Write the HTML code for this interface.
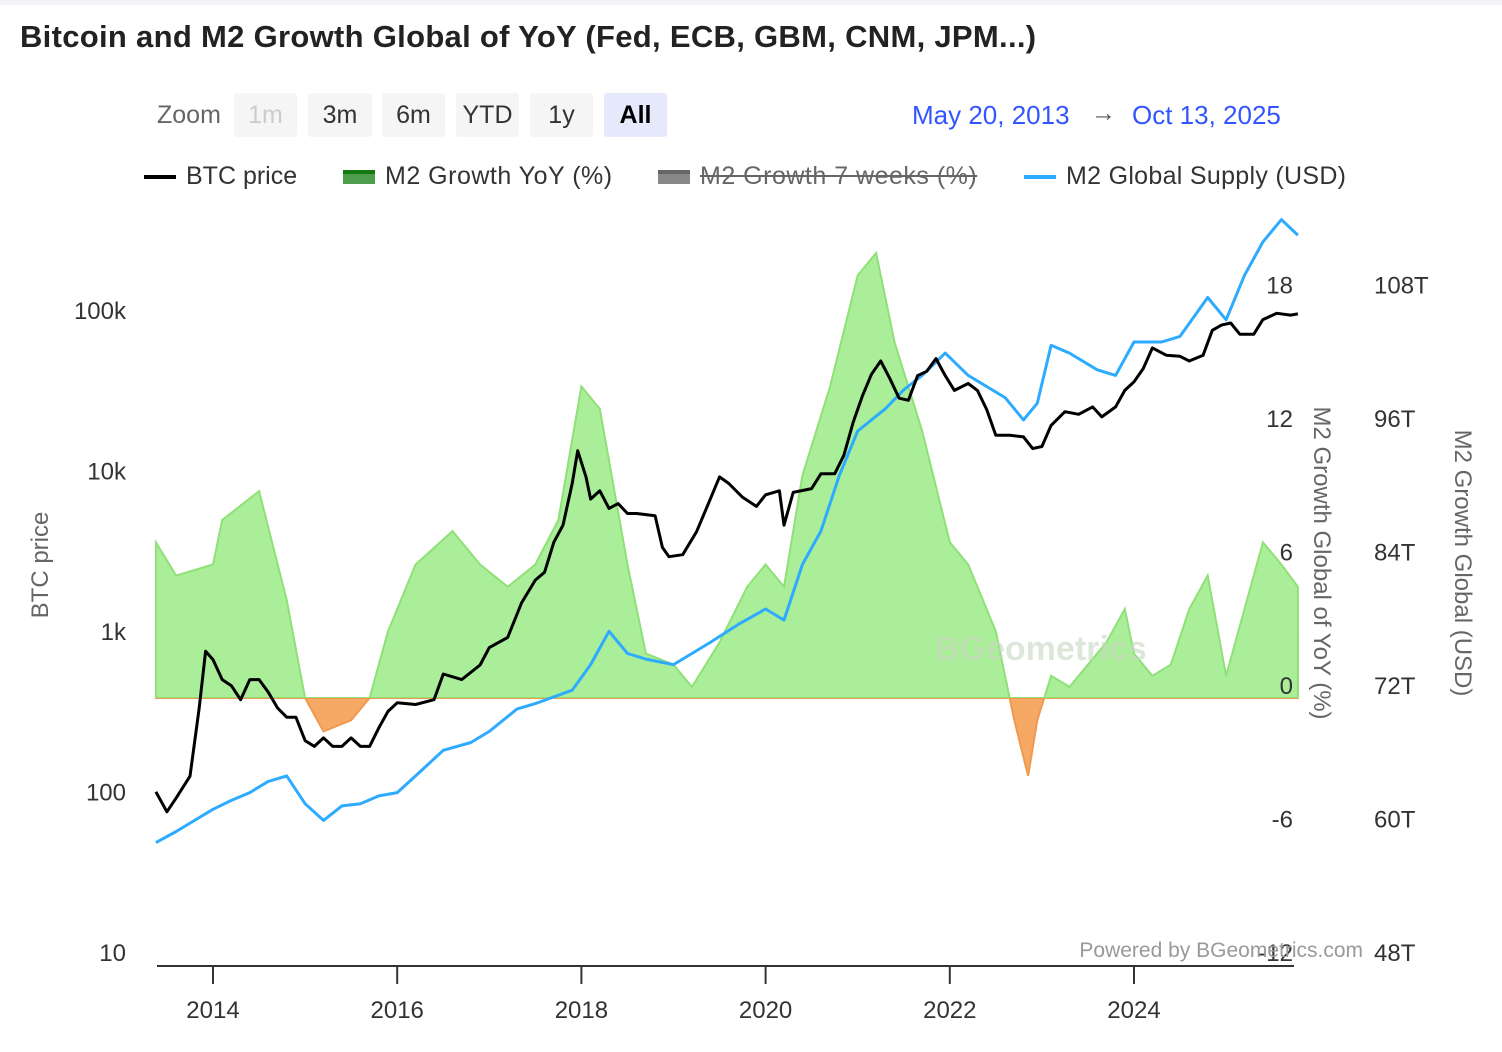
<!DOCTYPE html>
<html><head><meta charset="utf-8">
<style>
body{margin:0;background:#fff;font-family:"Liberation Sans",sans-serif;}
#wrap{position:relative;width:1502px;height:1052px;overflow:hidden;}
.t{position:absolute;white-space:nowrap;}
.btn{position:absolute;top:93px;height:44px;line-height:44px;background:#f5f5f5;border-radius:3px;font-size:25px;color:#333;text-align:center;}
</style></head><body>
<div id="wrap">
<div style="position:absolute;left:0;top:0;width:1502px;height:5px;background:#f3f4f7"></div>
<div class="t" style="left:20px;top:19px;font-size:31px;font-weight:bold;color:#222;letter-spacing:0.3px">Bitcoin and M2 Growth Global of YoY (Fed, ECB, GBM, CNM, JPM...)</div>
<div class="t" style="left:157px;top:101px;font-size:25px;color:#666">Zoom</div>
<div class="btn" style="left:234px;width:63px;color:#ccc">1m</div>
<div class="btn" style="left:308px;width:64px">3m</div>
<div class="btn" style="left:382px;width:63px">6m</div>
<div class="btn" style="left:456px;width:63px">YTD</div>
<div class="btn" style="left:530px;width:63px">1y</div>
<div class="btn" style="left:604px;width:63px;background:#e6e9fb;font-weight:bold;color:#000">All</div>
<div class="t" style="left:912px;top:100px;font-size:26px;color:#3355ff">May 20, 2013</div>
<div class="t" style="left:1091px;top:99px;font-size:25px;color:#555">→</div>
<div class="t" style="left:1132px;top:100px;font-size:26px;color:#3355ff">Oct 13, 2025</div>
<div class="t" style="left:144px;top:162px;font-size:25px;color:#333"><span style="display:inline-block;width:32px;height:4px;background:#000;vertical-align:middle;margin-right:10px"></span>BTC price</div>
<div class="t" style="left:343px;top:162px;font-size:25px;color:#333;letter-spacing:0.5px"><span style="display:inline-block;width:32px;height:10px;background:#4c9e4c;border-top:4px solid #137a13;vertical-align:middle;margin-right:10px"></span>M2 Growth YoY (%)</div>
<div class="t" style="left:658px;top:162px;font-size:25px;color:#666;text-decoration:line-through;letter-spacing:0.5px"><span style="display:inline-block;width:32px;height:10px;background:#888;border-top:4px solid #666;vertical-align:middle;margin-right:10px"></span>M2 Growth 7 weeks (%)</div>
<div class="t" style="left:1024px;top:162px;font-size:25px;color:#333;letter-spacing:0.3px"><span style="display:inline-block;width:32px;height:4px;background:#2eaaff;vertical-align:middle;margin-right:10px"></span>M2 Global Supply (USD)</div>
<svg id="plot" width="1502" height="1052" style="position:absolute;left:0;top:0"></svg>
</div>
<script>
const btcDates=[2013.38,2013.5,2013.6,2013.75,2013.85,2013.92,2014.0,2014.1,2014.2,2014.3,2014.4,2014.5,2014.6,2014.7,2014.8,2014.9,2015.0,2015.1,2015.2,2015.3,2015.4,2015.5,2015.6,2015.7,2015.8,2015.9,2016.0,2016.2,2016.4,2016.5,2016.7,2016.9,2017.0,2017.2,2017.35,2017.5,2017.6,2017.7,2017.8,2017.9,2017.96,2018.05,2018.1,2018.2,2018.3,2018.4,2018.5,2018.6,2018.8,2018.88,2018.95,2019.1,2019.25,2019.4,2019.5,2019.6,2019.75,2019.9,2020.0,2020.15,2020.2,2020.3,2020.5,2020.6,2020.75,2020.85,2020.95,2021.05,2021.15,2021.25,2021.35,2021.45,2021.55,2021.65,2021.75,2021.85,2021.95,2022.05,2022.2,2022.3,2022.4,2022.5,2022.65,2022.8,2022.9,2023.0,2023.1,2023.25,2023.4,2023.55,2023.65,2023.8,2023.9,2024.0,2024.1,2024.2,2024.35,2024.5,2024.6,2024.75,2024.85,2024.95,2025.05,2025.15,2025.3,2025.4,2025.55,2025.7,2025.78];
const btcValues=[120,90,110,150,400,900,800,600,550,450,600,600,500,400,350,350,250,230,260,230,230,260,230,230,300,380,430,420,450,650,600,740,950,1100,1800,2500,2800,4300,5500,10000,16000,11000,8000,9000,7000,7500,6500,6500,6300,4000,3500,3600,5000,8000,11000,10000,8200,7200,8500,9000,5500,8800,9300,11500,11500,15000,24000,35000,48000,58000,45000,34000,33000,47000,50000,60000,47000,38000,42000,38000,29000,20000,20000,19500,16500,17000,23000,28000,27000,30000,26000,30000,38000,43000,52000,70000,63000,62000,58000,63000,90000,97000,100000,85000,85000,105000,115000,112000,114000];
const m2Dates=[2013.38,2013.6,2013.8,2014.0,2014.2,2014.4,2014.6,2014.8,2015.0,2015.2,2015.4,2015.6,2015.8,2016.0,2016.2,2016.5,2016.8,2017.0,2017.3,2017.5,2017.9,2018.1,2018.3,2018.5,2018.7,2019.0,2019.2,2019.4,2019.7,2020.0,2020.2,2020.4,2020.6,2020.8,2021.0,2021.3,2021.5,2021.7,2021.95,2022.2,2022.4,2022.6,2022.8,2022.95,2023.1,2023.3,2023.6,2023.8,2024.0,2024.3,2024.5,2024.8,2025.0,2025.2,2025.4,2025.6,2025.78];
const m2Supply=[59,60,61,62,62.8,63.5,64.5,65,62.5,61,62.3,62.5,63.2,63.5,65,67.3,68,69,71,71.5,72.7,75,78,76,75.5,75,76,77,78.6,80,79,84,87,92,96,98,99.7,101,103,101,100,99,97,98.5,103.7,103,101.5,101,104,104,104.5,108,106,110,113,115,113.6];
const yoyDates=[2013.38,2013.6,2014.0,2014.1,2014.5,2014.8,2015.0,2015.2,2015.5,2015.7,2015.9,2016.2,2016.6,2016.9,2017.2,2017.5,2017.75,2018.0,2018.2,2018.5,2018.7,2019.0,2019.2,2019.5,2019.8,2020.0,2020.2,2020.4,2020.7,2021.0,2021.2,2021.4,2021.7,2022.0,2022.2,2022.5,2022.7,2022.85,2022.95,2023.1,2023.3,2023.5,2023.7,2023.9,2024.0,2024.2,2024.4,2024.6,2024.8,2025.0,2025.2,2025.4,2025.6,2025.78];
const yoyValues=[7,5.5,6,8,9.3,4.4,0,-1.5,-1,0,3,6,7.5,6,5,6,8,14,13,6,2,1.5,0.5,2.5,5,6,5,10,14,19,20,16,12,7,6,3,-1,-3.5,-1,1,0.5,1.5,2.5,4,2,1,1.5,4,5.5,1,4,7,6,5];
const leftTicks=[10,100,1000,10000,100000];
const leftLabels=["10","100","1k","10k","100k"];
const yoyTicks=[-12,-6,0,6,12,18];
const supTicks=[48,60,72,84,96,108];
const xTicks=[2014,2016,2018,2020,2022,2024];

const X0=213,PXY=92.1;
const xs=d=>X0+(d-2014)*PXY;
const yBtc=v=>965-(Math.log10(v)-1)*160.5;
const yYoy=v=>698-v*22.25;
const ySup=v=>965-(v-48)*133.5/12;
const svg=document.getElementById('plot');
const NS='http://www.w3.org/2000/svg';
function mk(tag,attrs,parent){const e=document.createElementNS(NS,tag);for(const k in attrs)e.setAttribute(k,attrs[k]);(parent||svg).appendChild(e);return e;}
const defs=mk('defs',{});
const cp1=mk('clipPath',{id:'pos'},defs);mk('rect',{x:0,y:0,width:1502,height:698},cp1);
const cp2=mk('clipPath',{id:'neg'},defs);mk('rect',{x:0,y:698,width:1502,height:400},cp2);
let area='M'+xs(yoyDates[0])+',698';
yoyDates.forEach((d,i)=>{area+=' L'+xs(d).toFixed(1)+','+yYoy(yoyValues[i]).toFixed(1);});
area+=' L'+xs(yoyDates[yoyDates.length-1])+',698 Z';
const ga=mk('path',{d:area,fill:'#aaee99',stroke:'#90e078','stroke-width':2,'clip-path':'url(#pos)'});


const oa=mk('path',{d:area,fill:'#f6a865',stroke:'#f09a50','stroke-width':2,'clip-path':'url(#neg)'});


const wm=mk('text',{x:935,y:660,'font-size':34,'font-weight':'bold',fill:'#c8d8c0','opacity':0.6,'font-family':'Liberation Sans, sans-serif'});
wm.textContent='BGeometrics';


const sp=m2Dates.map((d,i)=>xs(d).toFixed(1)+','+ySup(m2Supply[i]).toFixed(1)).join(' ');
const sl=mk('polyline',{points:sp,fill:'none',stroke:'#2eaaff','stroke-width':3,'stroke-linejoin':'round'});


const bp=btcDates.map((d,i)=>xs(d).toFixed(1)+','+yBtc(btcValues[i]).toFixed(1)).join(' ');
const bl=mk('polyline',{points:bp,fill:'none',stroke:'#000','stroke-width':3,'stroke-linejoin':'round'});


const ax=mk('line',{x1:157,x2:1294,y1:966,y2:966,stroke:'#333','stroke-width':2});


const F='Liberation Sans, sans-serif';
xTicks.forEach(t=>{
  const tk=mk('line',{x1:xs(t),x2:xs(t),y1:966,y2:984,stroke:'#333','stroke-width':2});
  
  
  const tx=mk('text',{x:xs(t),y:1018,'text-anchor':'middle','font-size':24,fill:'#333','font-family':F});
  tx.textContent=t;
  
  
});
leftTicks.forEach((v,i)=>{
  const tx=mk('text',{x:126,y:yBtc(v)-4,'text-anchor':'end','font-size':24,fill:'#333','font-family':F});
  tx.textContent=leftLabels[i];
  
  
});
yoyTicks.forEach(v=>{
  const tx=mk('text',{x:1293,y:yYoy(v)-4,'text-anchor':'end','font-size':24,fill:'#333','font-family':F});
  tx.textContent=v;
  
  
});
supTicks.forEach(v=>{
  const tx=mk('text',{x:1374,y:ySup(v)-4,'font-size':24,fill:'#333','font-family':F});
  tx.textContent=v+'T';
  
  
});
const lt=mk('text',{x:0,y:0,transform:'translate(48,565) rotate(-90)','text-anchor':'middle','font-size':24,fill:'#666','font-family':F});
lt.textContent='BTC price';


const rt=mk('text',{x:0,y:0,transform:'translate(1314,563) rotate(90)','text-anchor':'middle','font-size':24,fill:'#666','font-family':F});
rt.textContent='M2 Growth Global of YoY (%)';


const rt2=mk('text',{x:0,y:0,transform:'translate(1455,563) rotate(90)','text-anchor':'middle','font-size':24,fill:'#666','font-family':F});
rt2.textContent='M2 Growth Global (USD)';


const cr=mk('text',{x:1363,y:957,'text-anchor':'end','font-size':21,fill:'#999','font-family':F});
cr.textContent='Powered by BGeometrics.com';


</script>
</body></html>
